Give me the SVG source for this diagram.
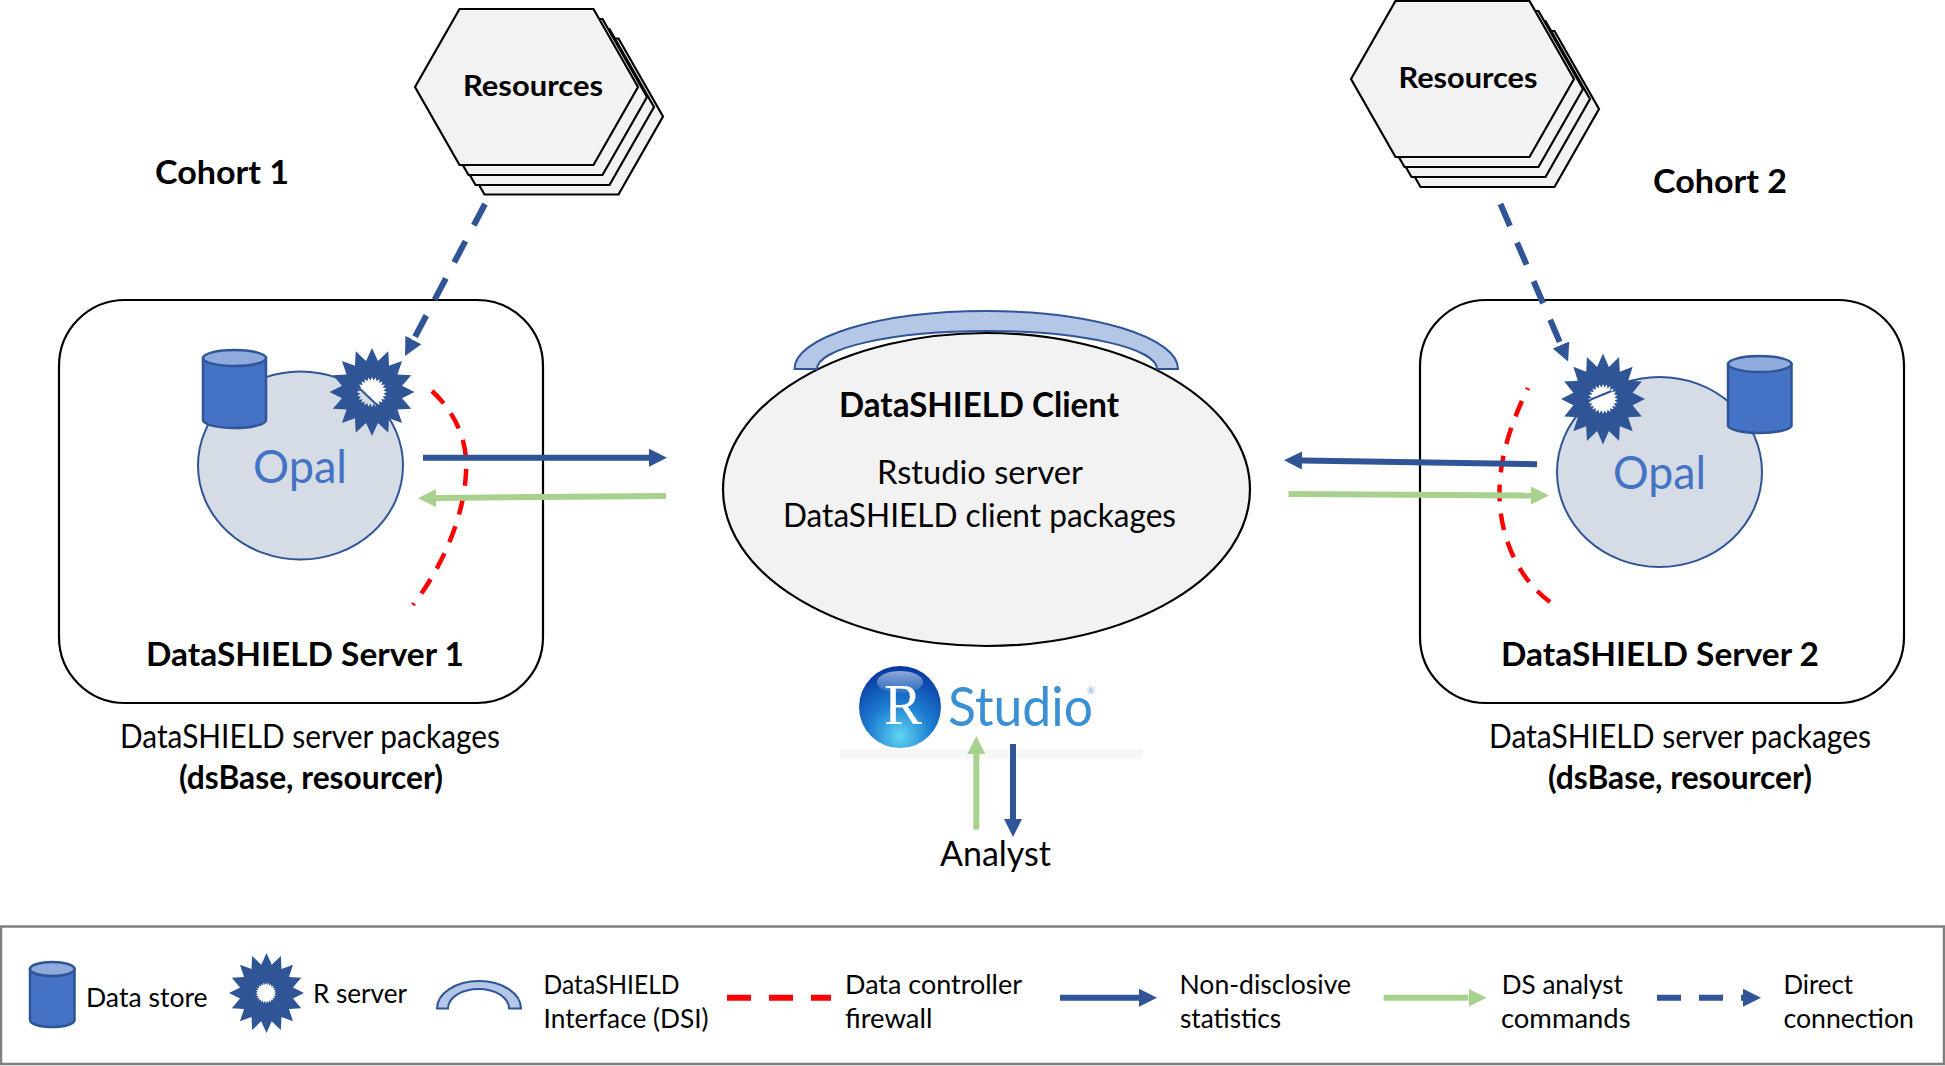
<svg xmlns="http://www.w3.org/2000/svg" width="1945" height="1066" viewBox="0 0 1945 1066">
<style>
text{font-family:Lato,"Liberation Sans",sans-serif;fill:#000}
.b{font-weight:700}
.t30{font-size:32px}
.t31{font-size:33.5px}
.t29{font-size:31.5px}
.t27{font-size:29px}
.leg{font-size:27.5px}
.opal{font-size:46px;fill:#4472C4}
.hex{fill:#F2F2F2;stroke:#000;stroke-width:2.2}
.box{fill:#fff;stroke:#000;stroke-width:2.2}
.db{fill:#D6DCE5;stroke:#2F5597;stroke-width:2}
.cyl{fill:#4472C4;stroke:#2F5597;stroke-width:2.5}
.cyt{fill:#8FAADC;stroke:#2F5597;stroke-width:2.5}
.dsi{fill:#B4C7E7;stroke:#2F5597;stroke-width:2}
.star{fill:#2F5597}
.hole{fill:#fff}
.fw{fill:none;stroke:#F00;stroke-width:4.5;stroke-dasharray:17 12.3}
.nd{fill:none;stroke:#2F5597;stroke-width:6;marker-end:url(#hb)}
.ds{fill:none;stroke:#A9D18E;stroke-width:6;marker-end:url(#hg)}
.dc{fill:none;stroke:#2F5597;stroke-width:6;stroke-dasharray:24 18;marker-end:url(#hb)}
</style>
<defs>
<marker id="hb" viewBox="0 0 3 3" refX="0" refY="1.5" markerWidth="3" markerHeight="3" markerUnits="strokeWidth" orient="auto"><path d="M0 0L3 1.5L0 3Z" fill="#2F5597"/></marker>
<marker id="hg" viewBox="0 0 3 3" refX="0" refY="1.5" markerWidth="3" markerHeight="3" markerUnits="strokeWidth" orient="auto"><path d="M0 0L3 1.5L0 3Z" fill="#A9D18E"/></marker>
<polygon id="star16" points="0,-100 14,-70.6 38.3,-92.4 40,-59.9 70.7,-70.7 59.9,-40 92.4,-38.3 70.6,-14 100,0 70.6,14 92.4,38.3 59.9,40 70.7,70.7 40,59.9 38.3,92.4 14,70.6 0,100 -14,70.6 -38.3,92.4 -40,59.9 -70.7,70.7 -59.9,40 -92.4,38.3 -70.6,14 -100,0 -70.6,-14 -92.4,-38.3 -59.9,-40 -70.7,-70.7 -40,-59.9 -38.3,-92.4 -14,-70.6"/>
<polygon id="star24" points="0,-100 10.100,-76.600 25.900,-96.600 29.500,-71.400 50,-86.600 47,-61.300 70.700,-70.700 61.300,-47 86.600,-50 71.400,-29.500 96.600,-25.900 76.600,-10.100 100,0 76.600,10.100 96.600,25.900 71.400,29.500 86.600,50 61.300,47 70.700,70.700 47,61.300 50,86.600 29.500,71.400 25.900,96.600 10.100,76.600 0,100 -10.100,76.600 -25.900,96.600 -29.500,71.400 -50,86.600 -47,61.300 -70.700,70.700 -61.300,47 -86.600,50 -71.400,29.500 -96.600,25.900 -76.600,10.100 -100,0 -76.600,-10.100 -96.600,-25.900 -71.400,-29.500 -86.600,-50 -61.300,-47 -70.700,-70.700 -47,-61.300 -50,-86.600 -29.500,-71.400 -25.900,-96.600 -10.100,-76.600"/>
<polygon id="hexs" points="-111.5,0 -67,-78 67,-78 111.5,0 67,78 -67,78"/>
<clipPath id="cut1"><polygon points="340,369.6 395,421.7 340,421.7"/></clipPath>
<radialGradient id="ball" cx="0.5" cy="0.85" r="0.85"><stop offset="0" stop-color="#5FD6F2"/><stop offset="0.45" stop-color="#1F7ED2"/><stop offset="1" stop-color="#0636A0"/></radialGradient>
<linearGradient id="shine" x1="0" y1="0" x2="0" y2="1"><stop offset="0" stop-color="#fff" stop-opacity=".55"/><stop offset="1" stop-color="#fff" stop-opacity=".08"/></linearGradient>
</defs>
<rect width="1945" height="1066" fill="#fff"/>

<g id="resources-1">
<use href="#hexs" class="hex" transform="translate(551.5,116.5)"/>
<use href="#hexs" class="hex" transform="translate(542.5,107)"/>
<use href="#hexs" class="hex" transform="translate(535.5,97)"/>
<use href="#hexs" class="hex" transform="translate(526.5,87)"/>
<text class="b t27" x="463" y="96" textLength="140" lengthAdjust="spacingAndGlyphs">Resources</text>
</g>
<g id="resources-2">
<use href="#hexs" class="hex" transform="translate(1487.5,109)"/>
<use href="#hexs" class="hex" transform="translate(1478.5,99)"/>
<use href="#hexs" class="hex" transform="translate(1471.5,89)"/>
<use href="#hexs" class="hex" transform="translate(1462.5,79)"/>
<text class="b t27" x="1398.500" y="88" textLength="139" lengthAdjust="spacingAndGlyphs">Resources</text>
</g>
<g id="cohort-1"><text class="b t29" x="155" y="183.500" textLength="134" lengthAdjust="spacingAndGlyphs">Cohort 1</text></g>
<g id="cohort-2"><text class="b t29" x="1653" y="192.500" textLength="134" lengthAdjust="spacingAndGlyphs">Cohort 2</text></g>

<g id="server-1">
<rect class="box" x="59" y="300" width="484" height="403" rx="66" ry="66"/>
<text class="b t30" x="146" y="666" textLength="318" lengthAdjust="spacingAndGlyphs">DataSHIELD Server 1</text>
<text class="t30" x="120" y="748" textLength="380" lengthAdjust="spacingAndGlyphs">DataSHIELD server packages</text>
<text class="b t30" x="179" y="789" textLength="264" lengthAdjust="spacingAndGlyphs">(dsBase, resourcer)</text>
</g>
<g id="opal-1">
<ellipse class="db" cx="300.5" cy="465.5" rx="102.5" ry="94"/>
<text class="opal" x="253" y="482.500" textLength="94" lengthAdjust="spacingAndGlyphs">Opal</text>
</g>
<g id="store-1">
<path class="cyl" d="M203 358V420A31.5 8 0 0 0 266 420V358Z"/>
<ellipse class="cyt" cx="234.5" cy="358" rx="31.5" ry="8"/>
</g>
<g id="rserver-1">
<use href="#star16" class="star" transform="translate(372,392) scale(.425,.44)"/>
<use href="#star24" class="hole" transform="translate(372,392) scale(.15,.15)"/>
<g clip-path="url(#cut1)"><use href="#star24" fill="#D6DCE5" transform="translate(372,392) scale(.15,.15)"/></g>
<path d="M358 387L377 405" stroke="#2F5597" stroke-width="2" fill="none"/>
</g>
<g id="firewall-1"><path class="fw" pathLength="236.4" d="M432 391C458 415 468 445 466 472C464 520 440 570 413 605"/></g>

<g id="server-2">
<rect class="box" x="1420" y="300" width="484" height="403" rx="66" ry="66"/>
<text class="b t30" x="1501" y="666" textLength="318" lengthAdjust="spacingAndGlyphs">DataSHIELD Server 2</text>
<text class="t30" x="1489" y="748" textLength="382" lengthAdjust="spacingAndGlyphs">DataSHIELD server packages</text>
<text class="b t30" x="1548" y="789" textLength="264" lengthAdjust="spacingAndGlyphs">(dsBase, resourcer)</text>
</g>
<g id="opal-2">
<ellipse class="db" cx="1659.5" cy="472" rx="102.5" ry="95"/>
<text class="opal" x="1613" y="488.500" textLength="93" lengthAdjust="spacingAndGlyphs">Opal</text>
</g>
<g id="store-2">
<path class="cyl" d="M1728 364V426A32 8 0 0 0 1791.500 426V364Z"/>
<ellipse class="cyt" cx="1759.750" cy="364" rx="31.750" ry="8"/>
</g>
<g id="rserver-2">
<use href="#star16" class="star" transform="translate(1603,399) scale(.42,.455)"/>
<use href="#star24" class="hole" transform="translate(1603,399) scale(.15,.15)"/>
<path d="M1589.600 400L1611.600 391" stroke="#2F5597" stroke-width="2" fill="none"/>
</g>
<g id="firewall-2"><path class="fw" pathLength="236.4" d="M1550 602C1520 580 1500 540 1499.500 495C1499 460 1510 425 1528 388"/></g>

<g id="client">
<ellipse cx="986.500" cy="489.500" rx="263.500" ry="156.500" fill="#F2F2F2" stroke="#000" stroke-width="2.200"/>
<path class="dsi" d="M794.500 369A191.750 58 0 0 1 1178 369L1157 369A170 38 0 0 0 817 369Z"/>
<text class="b t31" x="839" y="416.500" textLength="280" lengthAdjust="spacingAndGlyphs">DataSHIELD Client</text>
<text class="t31" x="877" y="483.500" textLength="206" lengthAdjust="spacingAndGlyphs">Rstudio server</text>
<text class="t31" x="783" y="527" textLength="393" lengthAdjust="spacingAndGlyphs">DataSHIELD client packages</text>
</g>

<g id="rstudio">
<rect x="840" y="749" width="303" height="10" fill="#F7F7F7"/>
<circle cx="900" cy="707" r="41" fill="url(#ball)"/>
<ellipse cx="900" cy="682" rx="23" ry="11" fill="url(#shine)"/>
<text x="884" y="724" font-size="56" style="font-family:'Liberation Serif',serif;fill:#fff" textLength="38" lengthAdjust="spacingAndGlyphs">R</text>
<text x="948" y="726" font-size="54" style="fill:#3B8FD3"><tspan textLength="145" lengthAdjust="spacingAndGlyphs">Studio</tspan><tspan x="1087" y="694" font-size="9" style="fill:#6FA8D8">®</tspan></text>
</g>
<g id="analyst"><text x="940" y="866" style="font-size:35px" textLength="111" lengthAdjust="spacingAndGlyphs">Analyst</text></g>

<g id="connectors">
<path class="dc" d="M485 204L413.400 340"/>
<path class="dc" d="M1500.500 204L1561 345"/>
<path class="nd" d="M423 457.700H649"/>
<path class="ds" d="M666 496L436 498"/>
<path class="nd" d="M1537 464.300L1302 460.500"/>
<path class="ds" d="M1288.500 494L1531 495.500"/>
<path class="ds" d="M976.300 829.600V754"/>
<path class="nd" d="M1013 744V819"/>
</g>

<g id="legend">
<rect x="1" y="926.500" width="1943" height="137.500" fill="none" stroke="#7F7F7F" stroke-width="2.500"/>
<path class="cyl" d="M30 969V1020A22.250 7 0 0 0 74.500 1020V969Z"/>
<ellipse class="cyt" cx="52.250" cy="969" rx="22.250" ry="7"/>
<text class="leg" x="86" y="1006.500" textLength="121.600" lengthAdjust="spacingAndGlyphs">Data store</text>
<use href="#star16" class="star" transform="translate(266.500,993) scale(.375,.4)"/>
<use href="#star24" class="hole" transform="translate(266,993) scale(.105,.105)"/>
<text class="leg" x="313" y="1002.500" textLength="94" lengthAdjust="spacingAndGlyphs">R server</text>
<path class="dsi" d="M437 1008.500A42 27.500 0 0 1 521 1008.500L509 1008.500A30.500 19.500 0 0 0 448 1008.500Z"/>
<text class="leg" x="543.600" y="993.500" textLength="136" lengthAdjust="spacingAndGlyphs">DataSHIELD</text>
<text class="leg" x="543.600" y="1027.500" textLength="165" lengthAdjust="spacingAndGlyphs">Interface (DSI)</text>
<path d="M727 997.700H831" fill="none" stroke="#F00" stroke-width="6" stroke-dasharray="24 18"/>
<text class="leg" x="845" y="993.500" textLength="177" lengthAdjust="spacingAndGlyphs">Data controller</text>
<text class="leg" x="845" y="1027.500" textLength="87.400" lengthAdjust="spacingAndGlyphs">firewall</text>
<path class="nd" d="M1060 997.700H1139"/>
<text class="leg" x="1179.500" y="993.500" textLength="171.500" lengthAdjust="spacingAndGlyphs">Non-disclosive</text>
<text class="leg" x="1180" y="1027.500" textLength="101" lengthAdjust="spacingAndGlyphs">statistics</text>
<path class="ds" d="M1383.600 997.700H1468.500"/>
<text class="leg" x="1501.800" y="993.500" textLength="121" lengthAdjust="spacingAndGlyphs">DS analyst</text>
<text class="leg" x="1501" y="1027.500" textLength="129.500" lengthAdjust="spacingAndGlyphs">commands</text>
<path class="dc" d="M1657 997.700H1743"/>
<text class="leg" x="1783.400" y="993.500" textLength="69.600" lengthAdjust="spacingAndGlyphs">Direct</text>
<text class="leg" x="1783.400" y="1027.500" textLength="130.600" lengthAdjust="spacingAndGlyphs">connection</text>
</g>
</svg>
